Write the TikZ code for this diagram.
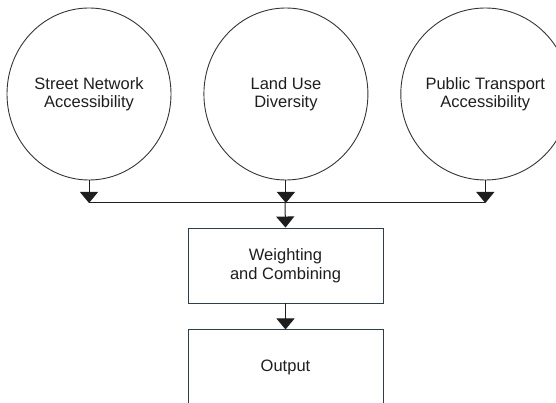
\documentclass[tikz,border=0pt]{standalone}
\usepackage{fontspec}
\setmainfont{Liberation Sans}
\usepackage{tikz}
\usetikzlibrary{positioning}
\usetikzlibrary{arrows.meta}
\usetikzlibrary{shapes.geometric}
\usepackage{xcolor}
\definecolor{framecol}{RGB}{44,62,80}
\definecolor{inkcol}{RGB}{30,30,30}

\begin{document}
\begin{tikzpicture}[x=1pt, y=-1pt,
		factor/.style={ellipse, draw=inkcol!90, line width=0.9pt, minimum width=164pt, minimum height=172pt, inner sep=0pt, align=center, text=inkcol, font=\fontsize{16.5}{18.5}\selectfont},
		blockbox/.style={rectangle, draw=framecol, line width=0.9pt, minimum width=195pt, minimum height=75pt, align=center, text=inkcol, font=\fontsize{16.5}{19.5}\selectfont},
		flow/.style={draw=inkcol, line width=1pt, -{Triangle[width=18pt, length=11pt]}}]
				    		\useasboundingbox (0,0) rectangle (556,403);
				    		\clip (0,0) rectangle (556,403);
				    		\node[factor] (street) at (89,94) {Street Network\\Accessibility};
				    		\node[factor, right=32pt of street] (landuse) {Land Use\\Diversity};
				    		\node[factor, right=32pt of landuse] (transit) {Public Transport\\Accessibility};
				    		\coordinate (bus) at (285,203);
				    		\draw[flow] (street.south) -- (street.south |- bus);
				    		\draw[flow] (landuse.south) -- (landuse.south |- bus);
				    		\draw[flow] (transit.south) -- (transit.south |- bus);
				    		\draw[inkcol, line width=1pt] (street.south |- bus) -- (transit.south |- bus);
				    		\node[blockbox] (weight) at (285.5,265.5) {Weighting\\and Combining};
				    		\draw[flow] (bus) -- (weight.north);
				    		\node[blockbox, below=26pt of weight] (output) {Output};
				    		\draw[flow] (weight.south) -- (output.north);
						\end{tikzpicture}
\end{document}
